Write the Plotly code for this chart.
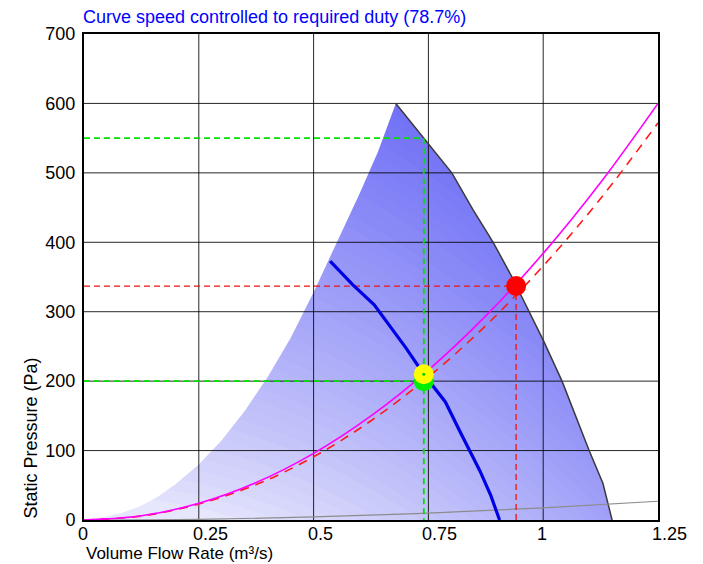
import plotly.graph_objects as go

# ---------------- data ----------------
title_text = "Curve speed controlled to required duty (78.7%)"
x_title = "Volume Flow Rate (m³/s)"
y_title = "Static Pressure (Pa)"

x_ticks = [0, 0.25, 0.5, 0.75, 1.0, 1.25]
x_tick_labels = ["0", "0.25", "0.5", "0.75", "1", "1.25"]
y_ticks = [0, 100, 200, 300, 400, 500, 600, 700]
y_tick_labels = ["0", "100", "200", "300", "400", "500", "600", "700"]

# full-speed fan curve (right edge of the envelope)
full_q = [0.679, 0.743, 0.801, 0.847, 0.891, 0.932, 0.969, 1.000, 1.041, 1.071, 1.100, 1.130, 1.150]
full_p = [600, 547, 500, 447, 400, 350, 300, 259, 200, 150, 100, 53, 0]

# stall line (left edge of the envelope)
stall_q = [0, 0.04, 0.08, 0.12, 0.16, 0.20, 0.25, 0.30, 0.35, 0.40, 0.45, 0.50, 0.55, 0.60, 0.64, 0.679]
stall_p = [0, 4, 10, 19, 33, 52, 80, 115, 157, 206, 262, 328, 398, 470, 530, 600]

# shading band levels (pressure-flow index, light -> dark)
band_levels = [18, 36, 54, 72, 90, 108, 126, 144, 162, 180, 198, 216, 234, 252, 270,
               288, 306, 324, 342, 360, 378, 396, 414, 432, 450, 468, 486, 504, 522,
               540, 558, 576, 594, 612, 630, 648, 666, 684, 702, 720]
band_weight_q2 = 300   # weight of flow in the shading index

# speed-controlled curve (78.7 %)
blue_q = [0.536, 0.585, 0.632, 0.668, 0.701, 0.740, 0.787, 0.819, 0.862, 0.886, 0.905]
blue_p = [373, 339, 310, 277, 248, 210, 170, 127, 71, 35, 0]

# system curve through operating point (magenta)
sys_q = [0, 0.125, 0.25, 0.375, 0.5, 0.625, 0.75, 0.875, 1.0, 1.125, 1.25]
sys_p = [0, 6, 24, 54, 96, 150, 216, 294, 384, 486, 600]

# system curve through required duty (red dashed)
req_q = [0, 0.125, 0.25, 0.375, 0.5, 0.625, 0.75, 0.875, 1.0, 1.125, 1.25]
req_p = [0, 5.7, 23, 51, 91, 143, 206, 280, 366, 463, 572]

# low grey curve
grey_q = [0, 0.25, 0.5, 0.75, 1.0, 1.25]
grey_p = [0, 1, 4.5, 10, 17.5, 27]

# points
duty_q, duty_p = 0.74, 200          # required duty (green)
oper_q, oper_p = 0.74, 210          # operating point (yellow)
full_pt_q, full_pt_p = 0.941, 337   # full-speed point (red)
full_at_duty_p = 550                # full-speed pressure at duty flow

# ---------------- figure ----------------
FONT = "Liberation Sans, Arial, sans-serif"
fig = go.Figure()
NOH = dict(hoverinfo="skip", showlegend=False)

xmin, xmax = x_ticks[0], x_ticks[-1]
ymin, ymax = y_ticks[0], y_ticks[-1]

light = (230, 230, 252)
dark = (114, 114, 246)

# base of the envelope (lightest)
env_q = stall_q + full_q + [0]
env_p = stall_p + full_p + [0]
fig.add_trace(go.Scatter(x=env_q, y=env_p, mode="lines", fill="toself",
                         fillcolor="rgb(%d,%d,%d)" % light, line=dict(width=0), **NOH))

# shading bands: region where P + w*Q^2 >= level, progressively darker
lo, hi = band_levels[0], band_levels[-1]
samp_q = [xmin + (xmax + 0.1 - xmin) * k / 40 for k in range(41)]
for L in band_levels:
    t = ((L - lo) / (hi - lo)) ** 0.8
    c = tuple(round(light[k] + (dark[k] - light[k]) * t) for k in range(3))
    bx = [xmin - 0.05] + samp_q + [xmax + 0.1, xmin - 0.05]
    by = [L] + [L - band_weight_q2 * q * q for q in samp_q] + [ymax + 50, ymax + 50]
    fig.add_trace(go.Scatter(x=bx, y=by, mode="lines", fill="toself",
                             fillcolor="rgb(%d,%d,%d)" % c, line=dict(width=0), **NOH))

# white masks outside the envelope
pk_q, pk_p = full_q[0], full_p[0]
fig.add_trace(go.Scatter(x=[xmin - 0.05] + stall_q + [pk_q + 0.04, xmin - 0.05],
                         y=[ymin - 20] + stall_p + [ymax + 20, ymax + 20],
                         mode="lines", fill="toself", fillcolor="white",
                         line=dict(width=0), **NOH))
fig.add_trace(go.Scatter(x=[pk_q - 0.04] + full_q + [full_q[-1], xmax + 0.1, xmax + 0.1, pk_q - 0.04],
                         y=[ymax + 20] + full_p + [ymin - 20, ymin - 20, ymax + 20, ymax + 20],
                         mode="lines", fill="toself", fillcolor="white",
                         line=dict(width=0), **NOH))

# grid lines (drawn over the shading)
gx, gy = [], []
for xv in x_ticks[1:-1]:
    gx += [xv, xv, None]
    gy += [ymin, ymax, None]
for yv in y_ticks[1:-1]:
    gx += [xmin, xmax, None]
    gy += [yv, yv, None]
fig.add_trace(go.Scatter(x=gx, y=gy, mode="lines", line=dict(color="rgba(0,0,0,0.85)", width=1), **NOH))

# outline of the full-speed curve
fig.add_trace(go.Scatter(x=full_q, y=full_p, mode="lines",
                         line=dict(color="#3a3a3a", width=1.5), **NOH))

# grey curve
fig.add_trace(go.Scatter(x=grey_q, y=grey_p, mode="lines", line_shape="spline",
                         line=dict(color="#8c8c8c", width=1.2), **NOH))

# guide lines: green (duty) and red (full speed)
fig.add_trace(go.Scatter(x=[0, duty_q, duty_q], y=[full_at_duty_p, full_at_duty_p, 0], mode="lines",
                         line=dict(color="rgb(0,225,0)", width=1.8, dash="6px,4px"), **NOH))
fig.add_trace(go.Scatter(x=[0, duty_q], y=[duty_p, duty_p], mode="lines",
                         line=dict(color="rgb(0,225,0)", width=1.8, dash="6px,4px"), **NOH))
fig.add_trace(go.Scatter(x=[0, full_pt_q, full_pt_q], y=[full_pt_p, full_pt_p, 0], mode="lines",
                         line=dict(color="rgb(235,20,20)", width=1.3, dash="6px,4px"), **NOH))

# speed-controlled curve
fig.add_trace(go.Scatter(x=blue_q, y=blue_p, mode="lines",
                         line=dict(color="#0000e6", width=3.2), **NOH))

# system curves
fig.add_trace(go.Scatter(x=req_q, y=req_p, mode="lines", line_shape="spline",
                         line=dict(color="#ff1a1a", width=1.6, dash="9px,7px"), **NOH))
fig.add_trace(go.Scatter(x=sys_q, y=sys_p, mode="lines", line_shape="spline",
                         line=dict(color="#ff00ff", width=1.6), **NOH))

# points
fig.add_trace(go.Scatter(x=[full_pt_q], y=[full_pt_p], mode="markers",
                         marker=dict(color="#ff0000", size=20, line=dict(width=0)), **NOH))
fig.add_trace(go.Scatter(x=[duty_q], y=[duty_p], mode="markers",
                         marker=dict(color="#00ee00", size=20, line=dict(width=0)), **NOH))
fig.add_trace(go.Scatter(x=[oper_q], y=[oper_p], mode="markers",
                         marker=dict(color="#ffff00", size=20, line=dict(width=0)), **NOH))
fig.add_trace(go.Scatter(x=[oper_q], y=[oper_p], mode="markers",
                         marker=dict(color="#00cc00", size=3, line=dict(width=0)), **NOH))

annotations = []
for v, lab in zip(x_ticks, x_tick_labels):
    annotations.append(dict(x=v, xref="x", y=0, yref="paper", text=lab, showarrow=False,
                            xanchor="left", yanchor="top", xshift=-7, yshift=-3, borderpad=0,
                            font=dict(family=FONT, size=18, color="black")))
annotations.append(dict(x=0, xref="paper", y=0, yref="paper", text=x_title, showarrow=False,
                        xanchor="left", yanchor="top", xshift=1, yshift=-23, borderpad=0,
                        font=dict(family=FONT, size=17, color="black")))
annotations.append(dict(x=0, xref="paper", y=0, yref="paper", text=y_title, showarrow=False,
                        textangle=-90, xanchor="center", yanchor="bottom", xshift=-54, yshift=0,
                        borderpad=0, font=dict(family=FONT, size=18, color="black")))
annotations.append(dict(x=0, xref="paper", y=1, yref="paper", text=title_text, showarrow=False,
                        xanchor="left", yanchor="bottom", xshift=-2, yshift=6, borderpad=0,
                        font=dict(family=FONT, size=18, color="#0000ff")))

# the page body adds an 8 px margin, so the figure is 8 px smaller than the window
fig.update_layout(
    width=695, height=556,
    margin=dict(l=76, r=45, t=26, b=44),
    paper_bgcolor="white", plot_bgcolor="white",
    font=dict(family=FONT, size=18, color="black"),
    showlegend=False,
    annotations=annotations,
    xaxis=dict(range=[xmin, xmax], tickvals=x_ticks, showticklabels=False,
               showgrid=False, zeroline=False, showline=True, linecolor="black",
               linewidth=2, mirror=True, ticks=""),
    yaxis=dict(range=[ymin, ymax], tickvals=y_ticks, ticktext=y_tick_labels,
               showgrid=False, zeroline=False, showline=True, linecolor="black",
               linewidth=2, mirror=True, ticks="", ticklabelstandoff=3,
               tickfont=dict(family=FONT, size=18, color="black")),
)

fig.write_html("out.html")
